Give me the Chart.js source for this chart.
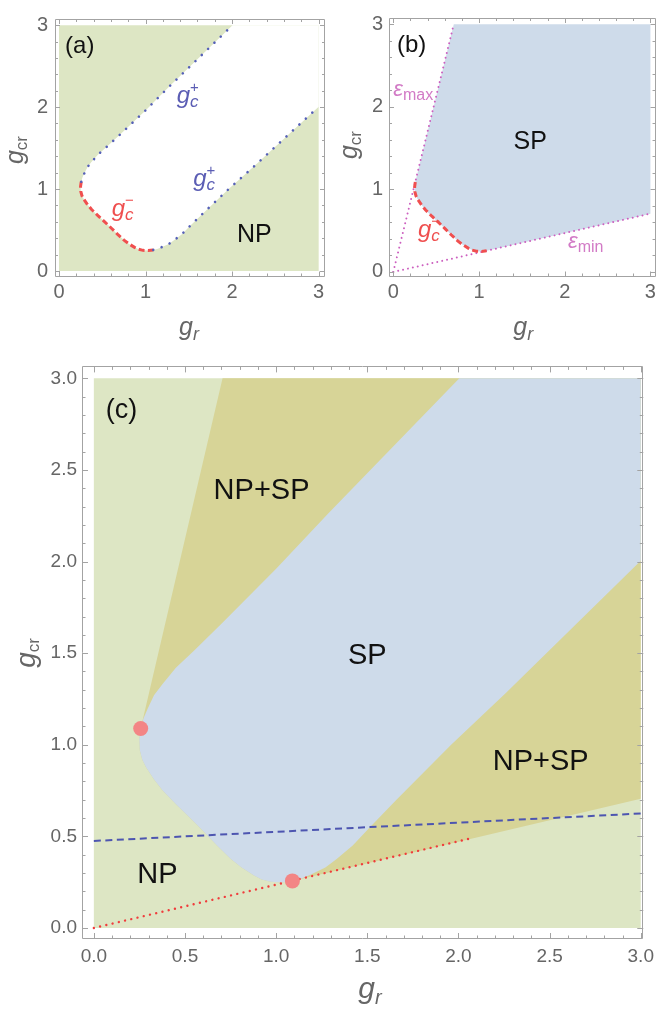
<!DOCTYPE html>
<html>
<head>
<meta charset="utf-8">
<title>Phase diagram</title>
<script src="https://cdn.jsdelivr.net/npm/chart.js@4.4.1/dist/chart.umd.min.js"></script>
<style>
body { margin: 0; background: #fff; }
canvas { position: absolute; }
</style>
</head>
<body>
<canvas id="panelA" width="330" height="350" style="left:0;top:0"></canvas>
<canvas id="panelB" width="330" height="350" style="left:330px;top:0"></canvas>
<canvas id="panelC" width="660" height="660" style="left:0;top:350px"></canvas>
<script>
// boundary of the SP phase
var gcMinusX = [0.257, 0.249, 0.252, 0.265, 0.286, 0.330, 0.377, 0.450, 0.522, 0.606, 0.675, 0.751, 0.810, 0.878, 0.920, 0.970, 1.030, 1.089];
var gcMinusY = [1.089, 1.030, 0.970, 0.920, 0.878, 0.810, 0.751, 0.675, 0.606, 0.522, 0.450, 0.377, 0.330, 0.286, 0.265, 0.252, 0.249, 0.257];
var gcUpperX = [0.257, 0.272, 0.295, 0.330, 0.377, 0.450, 0.549, 0.700, 1.000, 1.283, 2.005];
var gcUpperY = [1.089, 1.143, 1.196, 1.270, 1.332, 1.420, 1.513, 1.660, 1.960, 2.260, 3.000];
var gcLowerX = [1.089, 1.143, 1.196, 1.270, 1.332, 1.420, 1.513, 1.660, 1.960, 2.260, 3.000];
var gcLowerY = [0.257, 0.272, 0.295, 0.330, 0.377, 0.450, 0.549, 0.700, 1.000, 1.283, 2.005];

var epsMaxX = [0, 0.706];
var epsMaxY = [0, 3.0];
var epsMinX = [0, 3.0];
var epsMinY = [0, 0.706];

var dotX = [0.257, 1.089];
var dotY = [1.089, 0.257];
var tangentX = [0, 2.07];
var tangentY = [0, 0.49];
var dashX = [0, 3.0];
var dashY = [0.475, 0.625];

var rangeX = [0, 3, 3, 0];
var rangeY = [0, 0, 3, 3];

var ticksAB = [0, 1, 2, 3];
var ticksC = [0, 0.5, 1.0, 1.5, 2.0, 2.5, 3.0];

var FONT = '"Liberation Sans", Arial, sans-serif';
var GREEN = '#dde6c4', OLIVE = '#d7d497', SKY = '#cedbea';
var INK = '#111111', GRAY = '#666666';
var BLUE_T = '#5b5db4', RED_T = '#ef4f4f', PINK_T = '#d27bc6';

Chart.defaults.font.family = FONT;

function pts(xs, ys) {
    return xs.map(function (x, i) { return {x: x, y: ys[i]}; });
}
function it(s) { return 'italic ' + s + 'px ' + FONT; }
function up(s) { return s + 'px ' + FONT; }

var square = pts(rangeX, rangeY);
var gcMinus = pts(gcMinusX, gcMinusY);
var gcUpper = pts(gcUpperX, gcUpperY);
var gcLower = pts(gcLowerX, gcLowerY);
var corner = {x: rangeX[2], y: rangeY[2]};
var wedge = [{x: epsMaxX[1], y: epsMaxY[1]}].concat(gcMinus, [{x: epsMinX[1], y: epsMinY[1]}, corner]);
var spRegion = gcUpper.slice().reverse().concat(gcMinus.slice(1), gcLower.slice(1), [corner]);

function area(data, color, order) {
    return {data: data, fill: 'shape', backgroundColor: color, borderColor: 'transparent',
        borderWidth: 0, pointRadius: 0, order: order};
}
function curve(data, color, width, dash, order, cap) {
    return {data: data, fill: false, borderColor: color, borderWidth: width,
        borderDash: dash, borderCapStyle: cap || 'butt', pointRadius: 0, order: order};
}

function drawRich(ctx, x, y, parts, align, color, rot) {
    var cursor = 0, lastStart = 0, placed = [];
    parts.forEach(function (p) {
        ctx.font = p.f;
        var w = ctx.measureText(p.t).width;
        var start = p.stack ? lastStart : cursor;
        if (!p.stack) lastStart = start;
        placed.push([p, start]);
        cursor = Math.max(cursor, start + w);
    });
    ctx.save();
    ctx.translate(x, y);
    if (rot) ctx.rotate(rot);
    var x0 = align === 'center' ? -cursor / 2 : 0;
    ctx.fillStyle = color;
    ctx.textBaseline = 'alphabetic';
    ctx.textAlign = 'left';
    placed.forEach(function (q) {
        ctx.font = q[0].f;
        ctx.fillText(q[0].t, x0 + q[1], q[0].dy || 0);
    });
    ctx.restore();
}

function decor(cfg) {
    return {
        id: 'decor',
        afterDatasetsDraw: function (chart) {
            var ctx = chart.ctx, a = chart.chartArea;
            var sx = chart.scales.x, sy = chart.scales.y;
            ctx.save();
            ctx.strokeStyle = '#a3a3a3';
            ctx.lineWidth = 1;
            ctx.beginPath();
            var n = Math.round(3 / cfg.minor);
            for (var i = 0; i <= n; i++) {
                var v = i * cfg.minor;
                var len = Math.abs(v / cfg.major - Math.round(v / cfg.major)) < 1e-6 ? cfg.len[0] : cfg.len[1];
                var px = Math.round(sx.getPixelForValue(v)) + 0.5;
                var py = Math.round(sy.getPixelForValue(v)) + 0.5;
                ctx.moveTo(px, a.bottom); ctx.lineTo(px, a.bottom - len);
                ctx.moveTo(px, a.top); ctx.lineTo(px, a.top + len);
                ctx.moveTo(a.left, py); ctx.lineTo(a.left + len, py);
                ctx.moveTo(a.right, py); ctx.lineTo(a.right - len, py);
            }
            ctx.rect(Math.round(a.left) + 0.5, Math.round(a.top) + 0.5,
                Math.round(a.right - a.left) - 1, Math.round(a.bottom - a.top) - 1);
            ctx.stroke();
            ctx.restore();

            cfg.labels.forEach(function (l) {
                drawRich(ctx, sx.getPixelForValue(l.x), sy.getPixelForValue(l.y), l.parts, l.align, l.color);
            });
            cfg.titles.forEach(function (t) {
                drawRich(ctx, t.x, t.y, t.parts, 'center', GRAY, t.rot);
            });
        }
    };
}

function axes(xr, yr, ticks, size, decimals, yWidth, xHeight, pad) {
    function scale(range, isX) {
        return {
            type: 'linear', min: range[0], max: range[1],
            grid: {display: false, drawTicks: false},
            border: {display: false},
            ticks: {
                font: {family: FONT, size: size}, color: GRAY, maxRotation: 0, autoSkip: false,
                padding: isX ? pad[0] : pad[1],
                callback: function (v) { return v.toFixed(decimals); }
            },
            afterBuildTicks: function (s) { s.ticks = ticks.map(function (v) { return {value: v}; }); },
            afterFit: function (s) { if (isX) { s.height = xHeight; } else { s.width = yWidth; } }
        };
    }
    return {x: scale(xr, true), y: scale(yr, false)};
}

function build(id, datasets, scales, padding, cfg) {
    return new Chart(document.getElementById(id), {
        type: 'line',
        data: {datasets: datasets},
        options: {
            responsive: false,
            animation: false,
            events: [],
            layout: {padding: padding},
            scales: scales,
            plugins: {legend: {display: false}, tooltip: {enabled: false}}
        },
        plugins: [decor(cfg)]
    });
}

function gLabel(x, y, mark, color) {
    return {x: x, y: y, color: color, parts: [
        {t: 'g', f: it(24)},
        {t: 'c', f: it(17), dy: 4},
        {t: mark, f: up(15), dy: -11, stack: true}
    ]};
}
function epsLabel(x, y, sub) {
    return {x: x, y: y, color: PINK_T, parts: [{t: '\u03b5', f: it(22)}, {t: sub, f: up(16), dy: 4}]};
}
function titleX(x, y, gs, rs) {
    return {x: x, y: y, parts: [{t: 'g', f: it(gs)}, {t: 'r', f: it(rs), dy: Math.round(rs * 0.28)}]};
}
function titleY(x, y, gs, rs) {
    return {x: x, y: y, rot: -Math.PI / 2, parts: [{t: 'g', f: it(gs)}, {t: 'cr', f: up(rs), dy: 4}]};
}

// (a) boundaries g_c^+ and g_c^-
build('panelA', [
    curve(gcUpper, '#5560b8', 2.6, [0.01, 8.8], 2, 'round'),
    curve(gcLower, '#5560b8', 2.6, [0.01, 8.8], 2, 'round'),
    curve(gcMinus, '#f04f4f', 3, [6, 3.3], 2),
    area(spRegion, '#ffffff', 4),
    area(square, GREEN, 5)
], axes([-0.046, 3.073], [-0.067, 3.075], ticksAB, 20, 0, 55, 73.5, [4, 7]),
    {left: 0, top: 5.5, right: 5, bottom: 0},
    {major: 1, minor: 0.2, len: [5, 3],
        labels: [
            {x: 0.07, y: 2.664, color: INK, parts: [{t: '(a)', f: up(24)}]},
            {x: 2.056, y: 0.356, color: INK, parts: [{t: 'NP', f: up(25)}]},
            gLabel(1.36, 2.047, '+', BLUE_T),
            gLabel(1.551, 1.043, '+', BLUE_T),
            gLabel(0.609, 0.675, '\u2212', RED_T)
        ],
        titles: [titleX(189, 335, 25, 18), titleY(23, 150, 25, 17)]
    });

// (b) bistable wedge between eps_min and eps_max
build('panelB', [
    curve(gcMinus, '#f04f4f', 3, [6, 3.3], 2),
    curve(pts(epsMaxX, epsMaxY), '#cc5fbf', 2, [0.01, 5], 3, 'round'),
    curve(pts(epsMinX, epsMinY), '#cc5fbf', 2, [0.01, 5], 3, 'round'),
    area(wedge, SKY, 5)
], axes([-0.05, 3.06], [-0.055, 3.075], ticksAB, 20, 0, 59, 73.5, [4, 6]),
    {left: 0, top: 5.5, right: 1.5, bottom: 0},
    {major: 1, minor: 0.2, len: [5, 3],
        labels: [
            {x: 0.043, y: 2.665, color: INK, parts: [{t: '(b)', f: up(24)}]},
            {x: 1.404, y: 1.483, color: INK, parts: [{t: 'SP', f: up(25)}]},
            epsLabel(0.0, 2.13, 'max'),
            epsLabel(2.039, 0.289, 'min'),
            gLabel(0.288, 0.418, '\u2212', RED_T)
        ],
        titles: [titleX(193.3, 335, 25, 18), titleY(27, 145, 25, 17)]
    });

// (c) full phase diagram
build('panelC', [
    {data: pts(dotX, dotY), showLine: false, pointRadius: 7.5, pointBackgroundColor: '#f38585',
        pointBorderWidth: 0, order: 1},
    curve(pts(dashX, dashY), '#4d55b0', 2, [7, 4.5], 2),
    curve(pts(tangentX, tangentY), '#f03c3c', 2.4, [0.01, 6.4], 2, 'round'),
    area(spRegion, SKY, 4),
    area(wedge, OLIVE, 5),
    area(square, GREEN, 6)
], axes([-0.065, 3.014], [-0.060, 3.065], ticksC, 19, 1, 82, 71, [6, 5]),
    {left: 0, top: 15, right: 11.5, bottom: 0},
    {major: 0.5, minor: 0.1, len: [6, 3.5],
        labels: [
            {x: 0.065, y: 2.784, color: INK, parts: [{t: '(c)', f: up(27)}]},
            {x: 0.920, y: 2.343, color: INK, align: 'center', parts: [{t: 'NP+SP', f: up(29)}]},
            {x: 1.5, y: 1.441, color: INK, align: 'center', parts: [{t: 'SP', f: up(29)}]},
            {x: 2.451, y: 0.864, color: INK, align: 'center', parts: [{t: 'NP+SP', f: up(29)}]},
            {x: 0.349, y: 0.243, color: INK, align: 'center', parts: [{t: 'NP', f: up(29)}]}
        ],
        titles: [titleX(370, 648, 30, 20), titleY(34.5, 303, 28, 17)]
    });
</script>
</body>
</html>
